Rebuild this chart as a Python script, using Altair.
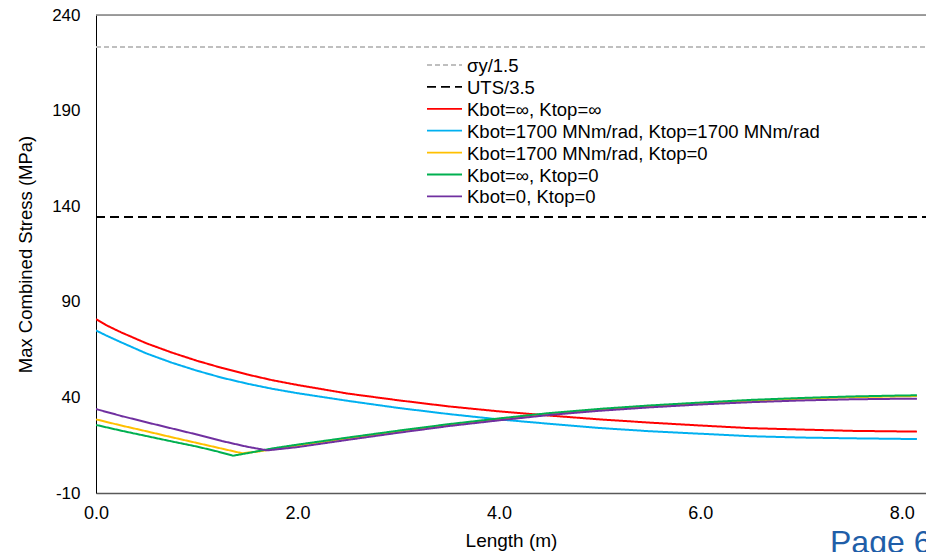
import altair as alt
import pandas as pd

# ---- data ----
series_names = [
    "σy/1.5",
    "UTS/3.5",
    "Kbot=∞, Ktop=∞",
    "Kbot=1700 MNm/rad, Ktop=1700 MNm/rad",
    "Kbot=1700 MNm/rad, Ktop=0",
    "Kbot=∞, Ktop=0",
    "Kbot=0, Ktop=0",
]
series_colors = ["#bfbfbf", "#000000", "#ff0000", "#00b0f0", "#ffc000", "#00b050", "#7030a0"]
series_dash = [[5, 3], [9, 5], [1, 0], [1, 0], [1, 0], [1, 0], [1, 0]]

ref_x = [0.0, 8.3]
sigma_y = [223.3, 223.3]
uts = [134.3, 134.3]

x_main = [0.0, 0.1, 0.25, 0.5, 0.75, 1.0, 1.25, 1.5, 1.75, 2.0, 2.5, 3.0, 3.5,
          4.0, 4.5, 5.0, 5.5, 6.0, 6.5, 7.0, 7.5, 8.0, 8.15]
red = [81.0, 77.8, 74.0, 68.3, 63.5, 59.2, 55.4, 52.0, 49.0, 46.5, 42.0, 38.5, 35.3,
       32.7, 30.5, 28.5, 26.8, 25.3, 23.9, 23.2, 22.5, 22.2, 22.1]
blue = [75.0, 72.4, 68.8, 63.0, 58.2, 54.0, 50.3, 47.2, 44.5, 42.2, 38.2, 34.5, 31.3,
        28.5, 26.2, 24.0, 22.3, 21.0, 19.7, 19.0, 18.6, 18.3, 18.2]

x_yellow = [0.0, 0.25, 0.5, 0.75, 1.0, 1.25, 1.45, 1.6, 1.75, 2.0, 2.5, 3.0, 3.5,
            4.0, 4.5, 5.0, 5.5, 6.0, 6.5, 7.0, 7.5, 8.0, 8.15]
yellow = [28.5, 25.3, 22.3, 19.2, 16.2, 13.2, 10.8, 11.6, 12.9, 14.9, 18.6, 22.2, 25.6,
          28.6, 31.4, 33.6, 35.4, 36.9, 38.3, 39.3, 40.1, 40.6, 40.7]

x_green = [0.0, 0.25, 0.5, 0.75, 1.0, 1.2, 1.36, 1.5, 1.75, 2.0, 2.5, 3.0, 3.5,
           4.0, 4.5, 5.0, 5.5, 6.0, 6.5, 7.0, 7.5, 8.0, 8.15]
green = [25.6, 22.6, 19.8, 17.0, 14.3, 11.8, 9.5, 10.8, 13.3, 15.3, 19.0, 22.6, 26.0,
         29.0, 31.8, 34.0, 35.8, 37.3, 38.7, 39.7, 40.5, 41.0, 41.1]

x_purple = [0.0, 0.25, 0.5, 0.75, 1.0, 1.25, 1.5, 1.7, 2.0, 2.5, 3.0, 3.5,
            4.0, 4.5, 5.0, 5.5, 6.0, 6.5, 7.0, 7.5, 8.0, 8.15]
purple = [33.9, 30.3, 27.0, 23.8, 20.6, 17.2, 14.2, 12.3, 14.0, 17.8, 21.5, 25.0,
          28.0, 30.8, 33.0, 34.8, 36.3, 37.5, 38.4, 39.0, 39.3, 39.3]

y_ticks = [-10, 40, 90, 140, 190, 240]
x_ticks = [0, 2, 4, 6, 8]

# ---- build tables ----
rows = []
def add(name, xs, ys):
    for i, (a, b) in enumerate(zip(xs, ys)):
        rows.append({"series": name, "x": a, "y": b, "i": i})

add(series_names[0], ref_x, sigma_y)
add(series_names[1], ref_x, uts)
add(series_names[2], x_main, red)
add(series_names[3], x_main, blue)
add(series_names[4], x_yellow, yellow)
add(series_names[5], x_green, green)
add(series_names[6], x_purple, purple)
df = pd.DataFrame(rows)

leg_df = pd.DataFrame({"series": series_names, "row": list(range(len(series_names)))})

W, H = 830, 478
FONT = "Liberation Sans"

color_scale = alt.Scale(domain=series_names, range=series_colors)
dash_scale = alt.Scale(domain=series_names, range=series_dash)
y_scale = alt.Scale(domain=[-10, 240], nice=False, zero=False)

lines = alt.Chart(df).mark_line(strokeWidth=2, clip=True).encode(
    x=alt.X("x:Q", scale=alt.Scale(domain=[0, 8.24], nice=False, zero=False),
            axis=alt.Axis(values=x_ticks, format=".1f", title="Length (m)",
                          grid=False, ticks=False, domainColor="#595959",
                          domainWidth=1.5, labelFontSize=18, labelFont=FONT,
                          labelColor="#000000", labelPadding=11,
                          titleFontSize=19, titleFont=FONT, titleFontWeight="normal",
                          titleColor="#000000", titlePadding=9, labelFlush=False)),
    y=alt.Y("y:Q", scale=y_scale,
            axis=alt.Axis(values=y_ticks, title="Max Combined Stress (MPa)",
                          labelExpr="'' + datum.value",
                          grid=False, ticks=False, domainColor="#000000",
                          domainWidth=1, labelFontSize=17, labelFont=FONT,
                          labelColor="#000000", labelPadding=16,
                          titleFontSize=18.5, titleFont=FONT, titleFontWeight="normal",
                          titleColor="#000000", titlePadding=16)),
    color=alt.Color("series:N", scale=color_scale, legend=None),
    strokeDash=alt.StrokeDash("series:N", scale=dash_scale, legend=None),
    order=alt.Order("i:Q"),
)

top = alt.Chart(pd.DataFrame({"y": [240]})).mark_rule(color="#7f7f7f", strokeWidth=1.5).encode(
    y=alt.Y("y:Q", scale=y_scale, axis=None)
)

# legend drawn as marks (pixel layout inside the plot area)
leg_base = alt.Chart(leg_df).transform_calculate(ypix="50 + datum.row * 21.9")
leg_sym = leg_base.mark_rule(strokeWidth=1.8).encode(
    x=alt.value(331), x2=alt.value(366),
    y=alt.Y("ypix:Q", scale=None, axis=None),
    color=alt.Color("series:N", scale=color_scale, legend=None),
    strokeDash=alt.StrokeDash("series:N", scale=dash_scale, legend=None),
)
leg_txt = leg_base.mark_text(align="left", baseline="middle", fontSize=18.5, font=FONT,
                             color="#000000", dy=1).encode(
    x=alt.value(371),
    y=alt.Y("ypix:Q", scale=None, axis=None),
    text="series:N",
)

page = alt.Chart(pd.DataFrame({"t": ["Page 6"]})).mark_text(
    align="left", baseline="alphabetic", fontSize=32, font=FONT, color="#1f5ea8"
).encode(text="t:N", x=alt.value(734), y=alt.value(538))

chart = alt.layer(lines, top, leg_sym, leg_txt, page).resolve_scale(y="independent").properties(
    width=W, height=H,
    autosize=alt.AutoSizeParams(type="none"),
    padding={"left": 96, "top": 15, "right": 0, "bottom": 59},
).configure_view(stroke=None).configure(background="#ffffff")

chart.save("out.html", embed_options={"renderer": "svg", "actions": False})
